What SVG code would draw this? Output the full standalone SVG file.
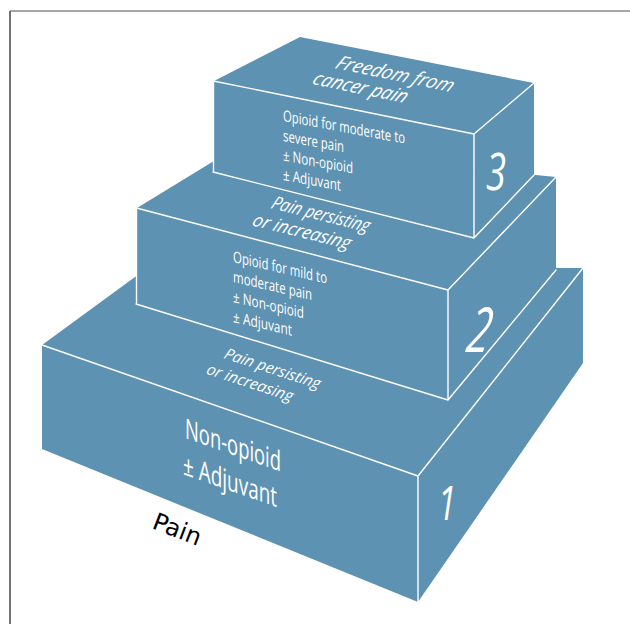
<svg xmlns="http://www.w3.org/2000/svg" width="630" height="624" viewBox="0 0 630 624">
  <style>
    .box{fill:#5e92b2}
    .edge{fill:none;stroke:#fff;stroke-width:1.4;stroke-linecap:round;stroke-linejoin:round}
    .lbl{fill:#fff;font-family:"Open Sans","Liberation Sans",sans-serif}
    .it{font-style:italic}
    .num{fill:#fff;font-family:"Open Sans","Liberation Sans",sans-serif;font-style:italic;text-anchor:middle}
  </style>
  <rect width="630" height="624" fill="#fff"/>

  <!-- outer frame -->
  <g id="frame">
    <line x1="10" y1="11" x2="630" y2="11" stroke="#8a8a8a" stroke-width="1.5"/>
    <line x1="10" y1="11" x2="10" y2="624" stroke="#444" stroke-width="1.5"/>
  </g>

  <!-- step 1: bottom block -->
  <g id="step-1">
    <polygon class="box" points="42,345 150,266 583,268 583,363 418,602 42,449"/>
    <path class="edge" d="M42,345 L418,476 L583,268 M418,476 V602"/>
    <g class="lbl it" transform="matrix(0.95,0.31,-0.38,0.85,223,358)" font-size="17">
      <text x="0" y="0" textLength="100" lengthAdjust="spacingAndGlyphs">Pain persisting</text>
      <text x="-10" y="22" textLength="90" lengthAdjust="spacingAndGlyphs">or increasing</text>
    </g>
    <g class="lbl" transform="translate(185,438) skewY(19.3)" font-size="28">
      <text x="0" y="0" textLength="96" lengthAdjust="spacingAndGlyphs">Non-opioid</text>
      <text x="-2" y="37" textLength="94" lengthAdjust="spacingAndGlyphs">± Adjuvant</text>
    </g>
    <text class="num" font-size="48" transform="translate(447,520) scale(0.68,1)">1</text>
  </g>

  <!-- step 2: middle block -->
  <g id="step-2">
    <polygon class="box" points="137,208 240,145 556,177 556,270 448,400 136,304"/>
    <path class="edge" d="M136.5,304 V208 L448,290 L556,177 M448,290 V400 M136,304 L448,400 L556,270"/>
    <g class="lbl it" transform="matrix(0.97,0.24,-0.4,0.85,270,208)" font-size="20">
      <text x="0" y="0" textLength="100" lengthAdjust="spacingAndGlyphs">Pain persisting</text>
      <text x="-10" y="23" textLength="100" lengthAdjust="spacingAndGlyphs">or increasing</text>
    </g>
    <g class="lbl" transform="translate(233,262) skewY(13)" font-size="15.5">
      <text x="0" y="0" textLength="94" lengthAdjust="spacingAndGlyphs">Opioid for mild to</text>
      <text x="0" y="20" textLength="79" lengthAdjust="spacingAndGlyphs">moderate pain</text>
      <text x="0" y="40" textLength="71" lengthAdjust="spacingAndGlyphs">± Non-opioid</text>
      <text x="0" y="60" textLength="59" lengthAdjust="spacingAndGlyphs">± Adjuvant</text>
    </g>
    <text class="num" font-size="62" transform="translate(476,352) scale(0.66,1) skewX(-16)">2</text>
  </g>

  <!-- step 3: top block -->
  <g id="step-3">
    <polygon class="box" points="214,81 300,37 534,83 534,175 474,238 213,172"/>
    <path class="edge" d="M213.5,172 V81 L474,134 L534,83 M474,134 V238 M213,172 L474,238 L534,175"/>
    <g class="lbl it" transform="matrix(0.97,0.2,-0.45,0.8,334,68)" font-size="22">
      <text x="0" y="0" textLength="120" lengthAdjust="spacingAndGlyphs">Freedom from</text>
      <text x="-13" y="23" textLength="96" lengthAdjust="spacingAndGlyphs">cancer pain</text>
    </g>
    <g class="lbl" transform="translate(283,121) skewY(10.5)" font-size="15.5">
      <text x="0" y="0" textLength="122" lengthAdjust="spacingAndGlyphs">Opioid for moderate to</text>
      <text x="0" y="20" textLength="61" lengthAdjust="spacingAndGlyphs">severe pain</text>
      <text x="0" y="39.5" textLength="70" lengthAdjust="spacingAndGlyphs">± Non-opioid</text>
      <text x="0" y="59" textLength="58" lengthAdjust="spacingAndGlyphs">± Adjuvant</text>
    </g>
    <text class="num" font-size="52" transform="translate(496,190) scale(0.7,1)">3</text>
  </g>

  <!-- axis label -->
  <text id="pain-label" transform="translate(151,528) rotate(21)" font-family="DejaVu Sans, sans-serif" font-size="24" fill="#000">Pain</text>
</svg>
